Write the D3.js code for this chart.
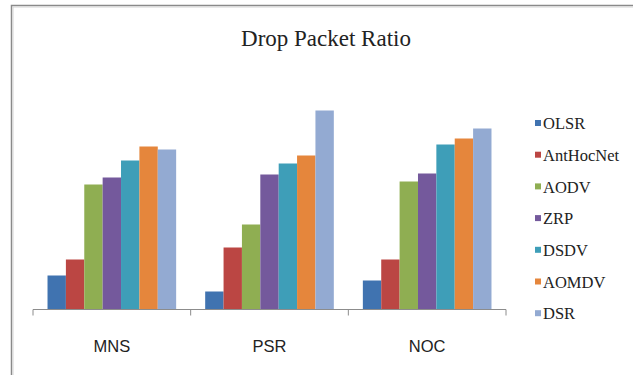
<!DOCTYPE html>
<html>
<head>
<meta charset="utf-8">
<script src="https://cdn.jsdelivr.net/npm/d3@7/dist/d3.min.js"></script>
<style>
  html, body { margin: 0; padding: 0; background: #fff; }
  svg { display: block; }
</style>
</head>
<body>
<svg id="chart" width="633" height="375"></svg>
<script>
// Drop packet ratio per scenario and routing protocol
const categories = ["MNS", "PSR", "NOC"];
const seriesNames = ["OLSR", "AntHocNet", "AODV", "ZRP", "DSDV", "AOMDV", "DSR"];
const OLSR      = [34, 18, 29];
const AntHocNet = [50, 62, 50];
const AODV      = [125, 85, 128];
const ZRP       = [132, 135, 136];
const DSDV      = [149, 146, 165];
const AOMDV     = [163, 154, 171];
const DSR       = [160, 199, 181];
const seriesValues = [OLSR, AntHocNet, AODV, ZRP, DSDV, AOMDV, DSR];
const colors = ["#4073b0", "#bb4643", "#8fae52", "#74599c", "#3e9eb8", "#e5863c", "#93aad2"];

const svg = d3.select("#chart");

// chart frame
svg.append("path")
  .attr("d", "M11.5,380 L11.5,5.5 L640,5.5")
  .attr("fill", "none")
  .attr("stroke", "#8a8a8a")
  .attr("stroke-width", 1.5);
svg.append("path")
  .attr("d", "M13,380 L13,7 L640,7")
  .attr("fill", "none")
  .attr("stroke", "#d4d4d4")
  .attr("stroke-width", 1);

// title
svg.append("text")
  .attr("x", 326)
  .attr("y", 46)
  .attr("text-anchor", "middle")
  .attr("font-family", "'Liberation Serif', 'Times New Roman', serif")
  .attr("font-size", 23)
  .attr("fill", "#222")
  .text("Drop Packet Ratio");

const x0 = d3.scaleBand().domain(categories).range([33, 506]).paddingInner(0).paddingOuter(0);
const x1 = d3.scaleBand().domain(seriesNames).range([0, x0.bandwidth()]).paddingInner(0).paddingOuter(0.79);
const y = d3.scaleLinear().domain([0, 200]).range([309.5, 109.5]);

const groups = svg.append("g").selectAll("g")
  .data(categories)
  .join("g")
  .attr("transform", d => `translate(${x0(d)},0)`);

groups.selectAll("rect")
  .data((c, ci) => seriesNames.map((s, si) => ({ s, si, v: seriesValues[si][ci] })))
  .join("rect")
  .attr("x", d => x1(d.s))
  .attr("width", x1.bandwidth())
  .attr("y", d => y(d.v))
  .attr("height", d => y(0) - y(d.v))
  .attr("fill", d => colors[d.si]);

// category axis
const xAxis = d3.axisBottom(x0).tickSize(0).tickFormat("");
const axisG = svg.append("g").attr("transform", `translate(0,${y(0)})`).call(xAxis);
axisG.select(".domain").attr("stroke", "#8c8c8c").attr("d", `M33,0H506`);
const edges = [x0.range()[0]].concat(categories.map(c => x0(c) + x0.bandwidth()));
axisG.selectAll(".sep")
  .data(edges)
  .join("line")
  .attr("class", "sep")
  .attr("x1", d => d).attr("x2", d => d)
  .attr("y1", 0).attr("y2", 6)
  .attr("stroke", "#8c8c8c");

svg.append("g").selectAll("text")
  .data(categories)
  .join("text")
  .attr("x", d => x0(d) + x0.bandwidth() / 2)
  .attr("y", 352)
  .attr("text-anchor", "middle")
  .attr("font-family", "'Liberation Sans', Arial, sans-serif")
  .attr("font-size", 16.5)
  .attr("fill", "#222")
  .text(d => d);

// legend
const legend = svg.append("g").selectAll("g")
  .data(seriesNames)
  .join("g")
  .attr("transform", (d, i) => `translate(535,${123.5 + i * 31.7})`);
legend.append("rect")
  .attr("x", 0).attr("y", -3.5)
  .attr("width", 6).attr("height", 6)
  .attr("fill", (d, i) => colors[i]);
legend.append("text")
  .attr("x", 8)
  .attr("y", 0)
  .attr("dy", "0.35em")
  .attr("font-family", "'Liberation Serif', 'Times New Roman', serif")
  .attr("font-size", 16.5)
  .attr("fill", "#222")
  .text(d => d);
</script>
</body>
</html>
